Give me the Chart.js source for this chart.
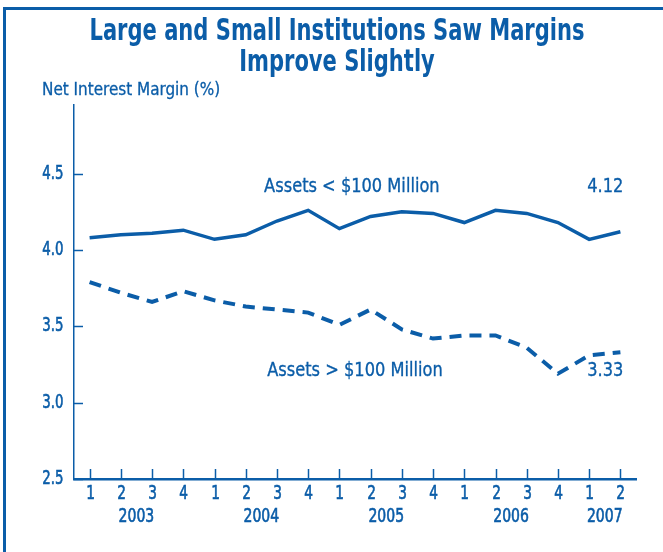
<!DOCTYPE html>
<html>
<head>
<meta charset="utf-8">
<script src="https://cdn.jsdelivr.net/npm/chart.js@4/dist/chart.umd.min.js"></script>
<style>
  html, body { margin: 0; padding: 0; background: #fff; overflow: hidden; }
  #wrap { position: relative; width: 663px; height: 552px; }
  #frame { position: absolute; left: 3px; top: 7px; width: 700px; height: 600px;
           border-left: 3px solid #0B5DA8; border-top: 3px solid #0B5DA8; box-sizing: border-box; }
  canvas { position: absolute; left: 0; top: 0; }
</style>
</head>
<body>
<div id="wrap">
  <div id="frame"></div>
  <canvas id="c" width="663" height="552"></canvas>
</div>
<script>
const quarters = ['1','2','3','4','1','2','3','4','1','2','3','4','1','2','3','4','1','2'];
const years    = ['2003','2003','2003','2003','2004','2004','2004','2004','2005','2005','2005','2005','2006','2006','2006','2006','2007','2007'];
const smallInst = [4.08,4.10,4.11,4.13,4.07,4.10,4.19,4.26,4.14,4.22,4.25,4.24,4.18,4.26,4.24,4.18,4.07,4.12];
const largeInst = [3.79,3.72,3.66,3.73,3.67,3.63,3.61,3.59,3.51,3.61,3.48,3.42,3.44,3.44,3.36,3.19,3.31,3.33];
const yTicks = [2.5, 3.0, 3.5, 4.0, 4.5];
const titleLines = ['Large and Small Institutions Saw Margins', 'Improve Slightly'];
const yTitle = 'Net Interest Margin (%)';
const smallLabel = 'Assets < $100 Million';
const largeLabel = 'Assets > $100 Million';

const BLUE = '#0B5DA8';
const FONT = '"Liberation Sans Narrow", "DejaVu Sans Condensed", sans-serif';

const labels = quarters.map((q, i) => q + ' ' + years[i]);

function txt(ctx, s, x, y, font, align, sx, heavy) {
  ctx.save();
  ctx.translate(x, y);
  ctx.scale(sx, 1);
  ctx.font = font;
  ctx.textAlign = align;
  ctx.textBaseline = 'middle';
  ctx.fillText(s, 0, 0);
  if (heavy) { ctx.lineWidth = heavy; ctx.strokeText(s, 0, 0); }
  ctx.restore();
}

const decor = {
  id: 'decor',
  afterDraw(chart) {
    const ctx = chart.ctx;
    const x = chart.scales.x, y = chart.scales.y;
    const area = chart.chartArea;
    ctx.save();
    ctx.fillStyle = BLUE;
    ctx.strokeStyle = BLUE;
    // title
    txt(ctx, titleLines[0], 337, 32, 'bold 30px ' + FONT, 'center', 0.78, 0);
    txt(ctx, titleLines[1], 337, 63, 'bold 30px ' + FONT, 'center', 0.78, 0);
    // y title
    txt(ctx, yTitle, 42, 90, '18px ' + FONT, 'left', 0.94, 0.3);
    // y ticks + labels
    yTicks.forEach(v => {
      const py = Math.round(y.getPixelForValue(v)) + 0.5;
      ctx.lineWidth = 1.5;
      ctx.beginPath(); ctx.moveTo(area.left, py); ctx.lineTo(area.left + 9, py); ctx.stroke();
      txt(ctx, v.toFixed(1), 63.5, py, '19px ' + FONT, 'right', 0.78, 0.6);
    });
    // x ticks + quarter labels
    quarters.forEach((q, i) => {
      const px = Math.round(x.getPixelForValue(i)) + 0.5;
      ctx.lineWidth = 1.5;
      ctx.beginPath(); ctx.moveTo(px, area.bottom); ctx.lineTo(px, area.bottom - 10); ctx.stroke();
      txt(ctx, q, px, 494, '19px ' + FONT, 'center', 0.8, 0.6);
    });
    // year labels
    const seen = [];
    years.forEach((yr) => { if (!seen.includes(yr)) seen.push(yr); });
    seen.forEach(yr => {
      const first = years.indexOf(yr), last = years.lastIndexOf(yr);
      const px = (x.getPixelForValue(first) + x.getPixelForValue(last)) / 2;
      txt(ctx, yr, px, 517, '19px ' + FONT, 'center', 0.82, 0.6);
    });
    // annotations
    const n = quarters.length - 1;
    const af = '19px ' + FONT;
    txt(ctx, smallLabel, x.getPixelForValue(8.4), y.getPixelForValue(4.41), af, 'center', 0.95, 0.3);
    txt(ctx, largeLabel, x.getPixelForValue(8.5), y.getPixelForValue(3.21), af, 'center', 0.95, 0.3);
    txt(ctx, smallInst[n].toFixed(2), x.getPixelForValue(n) + 3, y.getPixelForValue(4.41), af, 'right', 0.95, 0.3);
    txt(ctx, largeInst[n].toFixed(2), x.getPixelForValue(n) + 3, y.getPixelForValue(3.21), af, 'right', 0.95, 0.3);
    ctx.restore();
  }
};

new Chart(document.getElementById('c'), {
  type: 'line',
  data: {
    labels: labels,
    datasets: [
      { data: smallInst, borderColor: BLUE, borderWidth: 3.5, pointRadius: 0, tension: 0, fill: false },
      { data: largeInst, borderColor: BLUE, borderWidth: 4, borderDash: [12, 8], pointRadius: 0, tension: 0, fill: false }
    ]
  },
  options: {
    responsive: false,
    animation: false,
    events: [],
    layout: { padding: { top: 105, left: 0, right: 27, bottom: 0 } },
    plugins: { legend: { display: false }, tooltip: { enabled: false }, title: { display: false } },
    scales: {
      x: {
        type: 'category',
        offset: true,
        grid: { display: false, drawTicks: false },
        border: { display: true, color: BLUE, width: 2.5 },
        ticks: { display: false, autoSkip: false },
        afterFit: (s) => { s.height = 73; }
      },
      y: {
        min: 2.5, max: 4.95,
        grid: { display: false, drawTicks: false },
        border: { display: true, color: BLUE, width: 1.5 },
        afterBuildTicks: (s) => { s.ticks = yTicks.map(v => ({ value: v })); },
        ticks: { display: false },
        afterFit: (s) => { s.width = 74; }
      }
    }
  },
  plugins: [decor]
});
</script>
</body>
</html>
